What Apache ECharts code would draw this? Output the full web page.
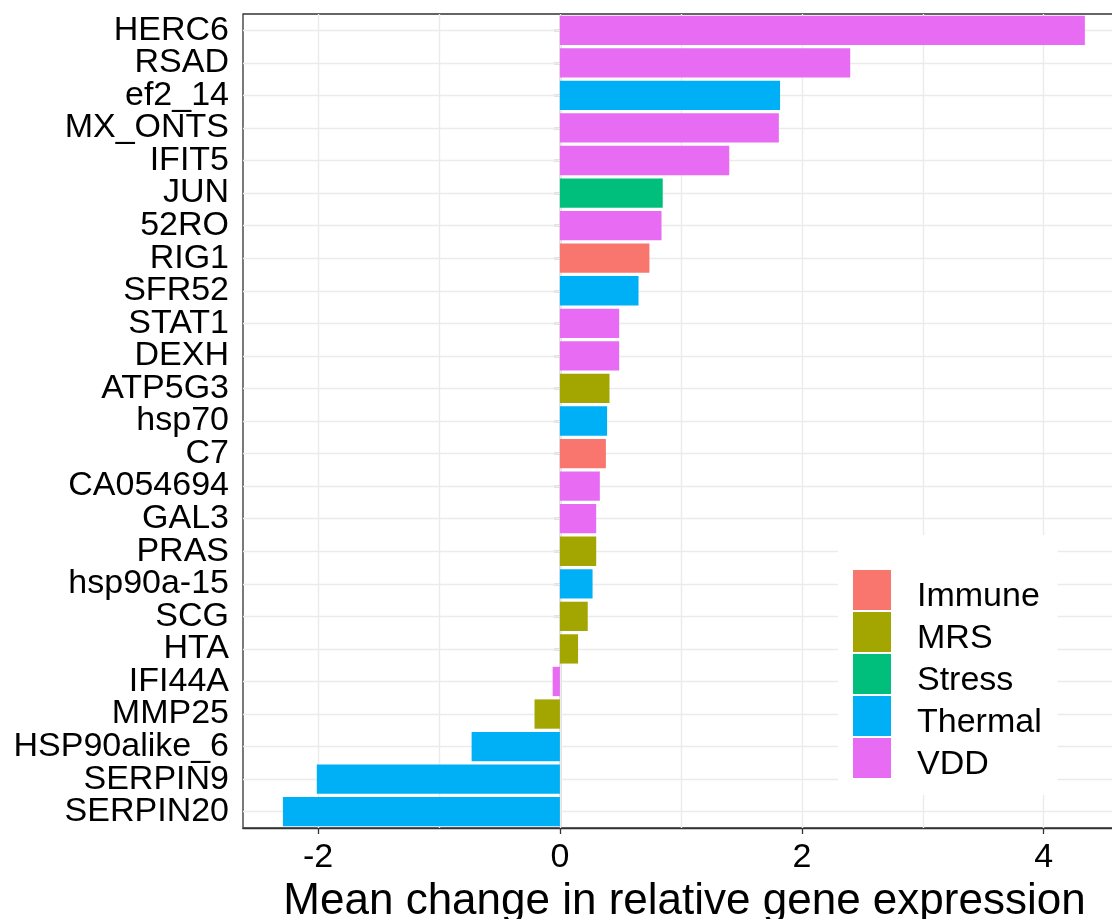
<!DOCTYPE html>
<html>
<head>
<meta charset="utf-8">
<script src="https://cdn.jsdelivr.net/npm/echarts@6/dist/echarts.min.js"></script>
<style>
html,body{margin:0;padding:0;background:#fff;}
#chart{width:1112px;height:919px;}
</style>
</head>
<body>
<div id="chart"></div>
<script>
const categories = ['HERC6','RSAD','ef2_14','MX_ONTS','IFIT5','JUN','52RO','RIG1','SFR52','STAT1','DEXH','ATP5G3','hsp70','C7','CA054694','GAL3','PRAS','hsp90a-15','SCG','HTA','IFI44A','MMP25','HSP90alike_6','SERPIN9','SERPIN20'];
const values = [4.34, 2.40, 1.82, 1.81, 1.40, 0.85, 0.84, 0.74, 0.65, 0.49, 0.49, 0.41, 0.39, 0.38, 0.33, 0.30, 0.30, 0.27, 0.23, 0.15, -0.06, -0.21, -0.73, -2.01, -2.29];
const groupOf = ['VDD','VDD','Thermal','VDD','VDD','Stress','VDD','Immune','Thermal','VDD','VDD','MRS','Thermal','Immune','VDD','VDD','MRS','Thermal','MRS','MRS','VDD','MRS','Thermal','Thermal','Thermal'];
const groups = ['Immune','MRS','Stress','Thermal','VDD'];
const groupColors = ['#F8766D','#A3A500','#00BF7D','#00B0F6','#E76BF3'];
const xTicks = [-2, 0, 2, 4];
const xGrid = [-2, -1, 0, 1, 2, 3, 4];
const xMin = -2.62, xMax = 4.68;

const FONT = 'Liberation Sans, Arial, sans-serif';
const chart = echarts.init(document.getElementById('chart'), null, {renderer: 'canvas'});

const barSeries = groups.map((g, gi) => ({
  name: g,
  type: 'bar',
  stack: 'total',
  barCategoryGap: '10%',
  itemStyle: {color: groupColors[gi]},
  emphasis: {disabled: true},
  data: values.map((v, i) => groupOf[i] === g ? v : '-')
}));

const gridSeries = {
  name: '_grid',
  type: 'line',
  data: [],
  z: 1,
  silent: true,
  markLine: {
    silent: true,
    z: 1,
    symbol: 'none',
    animation: false,
    label: {show: false},
    lineStyle: {color: '#EBEBEB', width: 1.4, type: 'solid'},
    emphasis: {disabled: true},
    data: xGrid.map(v => ({xAxis: v})).concat(categories.map(c => ({yAxis: c})))
  }
};

chart.setOption({
  animation: false,
  backgroundColor: '#fff',
  grid: {
    left: 243, top: 14, right: -14, bottom: 91,
    containLabel: false,
    outerBoundsMode: 'none',
    show: true,
    backgroundColor: '#fff',
    borderColor: '#333',
    borderWidth: 1.3
  },
  legend: {
    data: groups,
    orient: 'vertical',
    left: 838,
    top: 535,
    padding: [35, 16, 13, 15],
    backgroundColor: '#fff',
    icon: 'rect',
    itemWidth: 38,
    itemHeight: 40,
    itemGap: -2,
    selectedMode: false,
    formatter: name => '{t|' + name + '}',
    textStyle: {
      fontFamily: FONT, fontSize: 34, color: '#000', padding: [0, 0, 0, 21],
      rich: {t: {fontFamily: FONT, fontSize: 34, color: '#000', padding: [14, 0, 0, 0]}}
    }
  },
  xAxis: {
    type: 'value',
    min: xMin,
    max: xMax,
    name: 'Mean change in relative gene expression',
    nameLocation: 'middle',
    nameGap: 46,
    nameTextStyle: {fontFamily: FONT, fontSize: 44, color: '#000'},
    axisLine: {show: true, lineStyle: {color: '#333', width: 1.3}},
    axisTick: {show: true, length: 6, customValues: xTicks, lineStyle: {color: '#333', width: 1.3}},
    axisLabel: {customValues: xTicks, fontFamily: FONT, fontSize: 34, color: '#000', margin: 13},
    splitLine: {show: false}
  },
  yAxis: {
    type: 'category',
    data: categories,
    inverse: true,
    axisLine: {show: true, lineStyle: {color: '#333', width: 1.3}},
    axisTick: {show: true, alignWithLabel: true, interval: 0, length: 6, lineStyle: {color: '#333', width: 1.3}},
    axisLabel: {interval: 0, fontFamily: FONT, fontSize: 34, color: '#000', margin: 14},
    splitLine: {show: false}
  },
  series: [gridSeries].concat(barSeries)
});
</script>
</body>
</html>
